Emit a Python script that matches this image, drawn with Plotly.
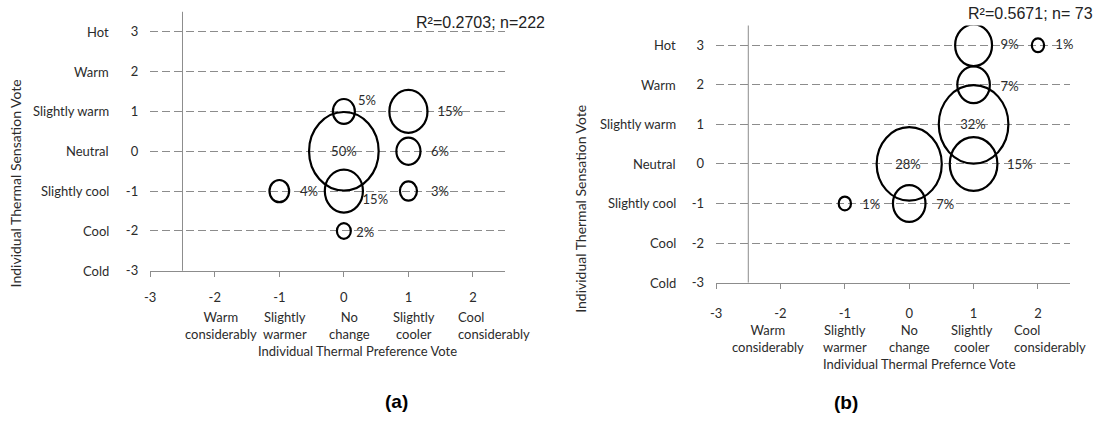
import numpy as np
import plotly.graph_objects as go

# ---------------- data ----------------
sens_vals = [-3, -2, -1, 0, 1, 2, 3]
sens_labels = ["Cold", "Cool", "Slightly cool", "Neutral", "Slightly warm", "Warm", "Hot"]
pref_vals = [-3, -2, -1, 0, 1, 2]
pref_labels = ["", "Warm<br>considerably", "Slightly<br>warmer", "No<br>change",
               "Slightly<br>cooler", "Cool<br>considerably"]

a_pref = [0, 1, 0, 1, -1, 0, 1, 0]
a_sens = [1, 1, 0, 0, -1, -1, -1, -2]
a_pct = [5, 15, 50, 6, 4, 15, 3, 2]
a_stat = "R²=0.2703; n=222"
a_xtitle = "Individual Thermal Preference Vote"

b_pref = [1, 2, 1, 1, 0, 1, -1, 0]
b_sens = [3, 3, 2, 1, 0, 0, -1, -1]
b_pct = [9, 1, 7, 32, 28, 15, 1, 7]
b_stat = "R²=0.5671; n= 73"
b_xtitle = "Individual Thermal Prefernce Vote"

ytitle = "Individual Thermal Sensation Vote"

# ---------------- styling / layout (pixels) ----------------
W, H = 1097, 423
FONT = "Lato"
TXT = "#2b2b2b"
GRID = "#8c8c8c"
XR = [-3, 2.5]
YR = [-3, 3.5]
BUB_W, BUB_H = 70, 80  # largest bubble, px

panels = [
    dict(pref=a_pref, sens=a_sens, pct=a_pct, stat=a_stat, xtitle=a_xtitle, tag="(a)",
         x0=145, x1=502, yt=12, yb=276,
         ldx=[0.22, 0.45, 0, 0.35, 0.32, 0.29, 0.35, 0.19],
         ldy=[0.23, -0.03, -0.05, -0.05, -0.05, -0.25, -0.05, -0.06],
         lpos=["middle right", "middle right", "middle center", "middle right",
               "middle right", "middle right", "middle right", "middle right"],
         catshift=[0, 6, 6, 6, 6, -17], statxy=(544, 23), tagxy=(393, 409),
         ytitlexy=(10, 187), xtitlexy=(353, 358), cat_dy=55, numname=39, xstand=10),
    dict(pref=b_pref, sens=b_sens, pct=b_pct, stat=b_stat, xtitle=b_xtitle, tag="(b)",
         x0=714, x1=1070, yt=26, yb=288,
         ldx=[0.42, 0.27, 0.42, -0.01, -0.02, 0.52, 0.27, 0.42],
         ldy=[-0.02, -0.02, -0.07, -0.03, -0.05, -0.05, -0.07, -0.07],
         lpos=["middle right", "middle right", "middle right", "middle center",
               "middle center", "middle right", "middle right", "middle right"],
         catshift=[0, -12, 0, 0, -2, -26], statxy=(1095, 14), tagxy=(845, 410),
         ytitlexy=(578, 213), xtitlexy=(919, 371), cat_dy=56, numname=38, xstand=14),
]

fig = go.Figure()
shapes = []
annotations = []

for i, p in enumerate(panels):
    n = "" if i == 0 else str(i + 1)
    xa, ya = "x" + n, "y" + n
    xdom = [p["x0"] / W, p["x1"] / W]
    ydom = [1 - p["yb"] / H, 1 - p["yt"] / H]

    fig.update_layout({
        "xaxis" + n: dict(domain=xdom, range=XR, anchor=ya, showgrid=False, zeroline=False,
                          showline=True, linecolor=GRID, linewidth=1,
                          ticks="outside", ticklen=5, tickcolor=GRID,
                          tickvals=pref_vals, ticktext=[str(v) for v in pref_vals],
                          tickfont=dict(family=FONT, size=13, color=TXT),
                          ticklabelstandoff=p["xstand"]),
        "yaxis" + n: dict(domain=ydom, range=YR, anchor=xa, showgrid=True, gridcolor=GRID,
                          griddash="8px,4px", gridwidth=1, zeroline=False, showline=False,
                          ticks="", tickvals=sens_vals, ticktext=[str(v) for v in sens_vals],
                          tickfont=dict(family=FONT, size=13, color=TXT), ticklabelstandoff=11),
    })

    # vertical axis line crossing at -2.5
    shapes.append(dict(type="line", xref=xa, yref=ya + " domain", x0=-2.5, x1=-2.5, y0=0, y1=1,
                       line=dict(color=GRID, width=1), layer="above"))

    # bubbles (area proportional to value, scaled to the largest one)
    sx = (XR[1] - XR[0]) / (p["x1"] - p["x0"])
    sy = (YR[1] - YR[0]) / (p["yb"] - p["yt"])
    vmax = max(p["pct"])
    for xv, yv, v in zip(p["pref"], p["sens"], p["pct"]):
        k = np.sqrt(v / vmax)
        rx = BUB_W / 2 * k * sx
        ry = BUB_H / 2 * k * sy
        shapes.append(dict(type="circle", xref=xa, yref=ya, x0=xv - rx, x1=xv + rx,
                           y0=yv - ry, y1=yv + ry, line=dict(color="black", width=2.2),
                           fillcolor="rgba(0,0,0,0)", layer="above"))

    # percentage labels
    fig.add_trace(go.Scatter(
        x=[a + d for a, d in zip(p["pref"], p["ldx"])],
        y=[a + d for a, d in zip(p["sens"], p["ldy"])],
        text=[f"{v}%" for v in p["pct"]], mode="text", textposition=p["lpos"],
        textfont=dict(family=FONT, size=13, color=TXT),
        xaxis=xa, yaxis=ya, showlegend=False, hoverinfo="skip", cliponaxis=False))

    # y category names
    for v, lab in zip(sens_vals, sens_labels):
        annotations.append(dict(xref=xa + " domain", yref=ya, x=0, y=v, xshift=-p["numname"],
                                xanchor="right", yanchor="middle", text=lab, showarrow=False,
                                font=dict(family=FONT, size=13, color=TXT)))
    # x category names
    for v, lab, sh in zip(pref_vals, pref_labels, p["catshift"]):
        if not lab:
            continue
        left = v == pref_vals[-1]
        annotations.append(dict(xref=xa, yref=ya + " domain", x=v, y=0, xshift=sh,
                                yshift=-p["cat_dy"], xanchor="left" if left else "center",
                                yanchor="middle", align="left" if left else "center",
                                text=lab, showarrow=False,
                                font=dict(family=FONT, size=13, color=TXT)))
    # axis titles
    annotations.append(dict(xref="paper", yref="paper", x=p["xtitlexy"][0] / W,
                            y=1 - p["xtitlexy"][1] / H, xanchor="center", yanchor="middle",
                            text=p["xtitle"], showarrow=False,
                            font=dict(family=FONT, size=13, color=TXT)))
    annotations.append(dict(xref="paper", yref="paper", x=p["ytitlexy"][0] / W,
                            y=1 - p["ytitlexy"][1] / H, xanchor="center", yanchor="middle",
                            text=ytitle, textangle=-90, showarrow=False,
                            font=dict(family=FONT, size=14, color=TXT)))
    # statistics
    annotations.append(dict(xref="paper", yref="paper", x=p["statxy"][0] / W,
                            y=1 - p["statxy"][1] / H, xanchor="right", yanchor="middle",
                            text=p["stat"], showarrow=False,
                            font=dict(family="Liberation Sans", size=16, color="#222222")))
    # panel tag
    annotations.append(dict(xref="paper", yref="paper", x=p["tagxy"][0] / W,
                            y=1 - p["tagxy"][1] / H, xanchor="center", yanchor="middle",
                            text="<b>" + p["tag"] + "</b>", showarrow=False,
                            font=dict(family="Liberation Sans", size=19, color="black")))

fig.update_layout(width=W, height=H, margin=dict(l=0, r=0, t=0, b=0),
                  paper_bgcolor="white", plot_bgcolor="white",
                  shapes=shapes, annotations=annotations, showlegend=False)

fig.write_html("out.html", config={"displayModeBar": False},
               post_script="document.body.style.margin='0px';")
